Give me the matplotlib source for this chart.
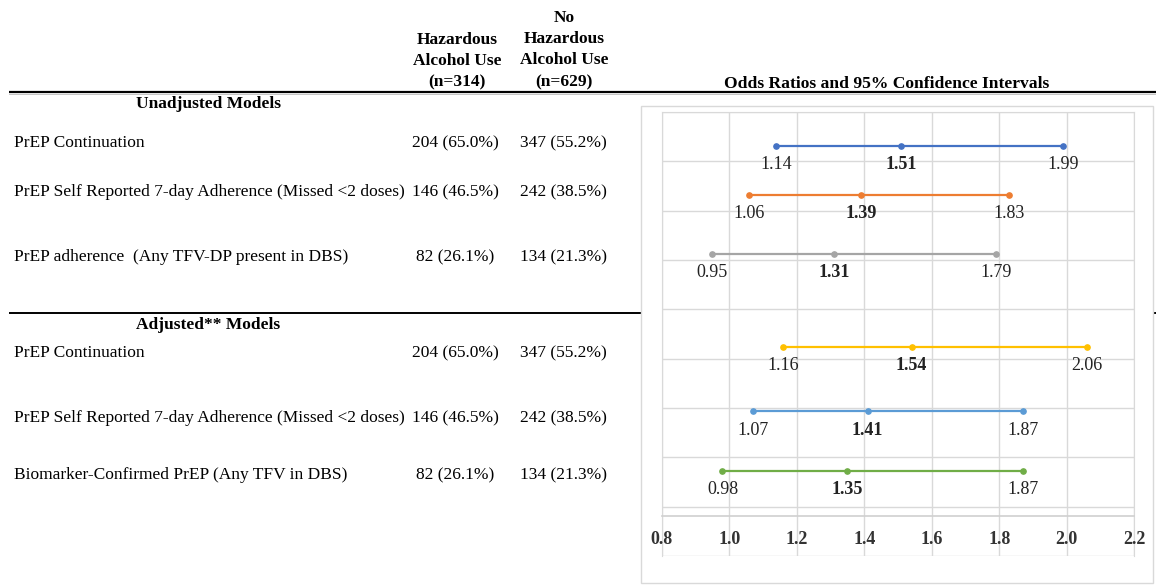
import matplotlib
matplotlib.use("Agg")
import matplotlib.pyplot as plt
from matplotlib.patches import Rectangle

plt.rcParams["font.family"] = ["Liberation Serif", "DejaVu Serif"]

# ---- data ----
outcomes = ["PrEP Continuation",
            "PrEP Self Reported 7-day Adherence (Missed <2 doses)",
            "PrEP adherence  (Any TFV-DP present in DBS)",
            "PrEP Continuation",
            "PrEP Self Reported 7-day Adherence (Missed <2 doses)",
            "Biomarker-Confirmed PrEP (Any TFV in DBS)"]
hazardous = ["204 (65.0%)", "146 (46.5%)", "82 (26.1%)",
             "204 (65.0%)", "146 (46.5%)", "82 (26.1%)"]
no_hazardous = ["347 (55.2%)", "242 (38.5%)", "134 (21.3%)",
                "347 (55.2%)", "242 (38.5%)", "134 (21.3%)"]
odds_ratio = [1.51, 1.39, 1.31, 1.54, 1.41, 1.35]
ci_low = [1.14, 1.06, 0.95, 1.16, 1.07, 0.98]
ci_high = [1.99, 1.83, 1.79, 2.06, 1.87, 1.87]
section_titles = ["Unadjusted Models", "Adjusted** Models"]
header_1 = ["Hazardous", "Alcohol Use", "(n=314)"]
header_2 = ["No", "Hazardous", "Alcohol Use", "(n=629)"]
x_ticks = [0.8, 1.0, 1.2, 1.4, 1.6, 1.8, 2.0, 2.2]

# ---- layout (pixels on the 1156x585 canvas) ----
W, H = 1156, 585
row_px = [143, 192, 257, 353, 418, 475]
section_px = [104, 325]
row_y = [8.31, 7.32, 6.13, 4.24, 2.93, 1.72]       # chart rows in axis units
colors = ["#4472C4", "#ED7D31", "#A5A5A5", "#FFC000", "#5B9BD5", "#70AD47"]
GRID = "#D9D9D9"
FS = 12.5

fig = plt.figure(figsize=(W / 100, H / 100), dpi=100)
tab = fig.add_axes([0, 0, 1, 1])
tab.set_xlim(0, W); tab.set_ylim(H, 0); tab.axis("off")

# header
for i, s in enumerate(header_1):
    tab.text(457, 39.5 + 21.5 * i, s, ha="center", va="center", fontsize=FS, fontweight="bold")
for i, s in enumerate(header_2):
    tab.text(564, 17.5 + 21.5 * i, s, ha="center", va="center", fontsize=FS, fontweight="bold")
tab.text(887, 84, "Odds Ratios and 95% Confidence Intervals", ha="center", va="center",
         fontsize=12.6, fontweight="bold")

# rules
tab.plot([9, W], [91.7, 91.7], color="black", lw=1.6, solid_capstyle="butt")
tab.plot([9, W], [93.8, 93.8], color="#BBBBBB", lw=0.6)
tab.plot([9, W], [312.5, 312.5], color="black", lw=1.4, solid_capstyle="butt")

for s, y in zip(section_titles, section_px):
    tab.text(208, y, s, ha="center", va="center", fontsize=FS, fontweight="bold")
for name, a, b, y in zip(outcomes, hazardous, no_hazardous, row_px):
    tab.text(14, y, name, ha="left", va="center", fontsize=FS)
    tab.text(455, y, a, ha="center", va="center", fontsize=FS)
    tab.text(563, y, b, ha="center", va="center", fontsize=FS)

# chart panel (white box covers the lower rule)
tab.add_patch(Rectangle((640.7, 106), 1152.7 - 640.7, 477, facecolor="white",
                        edgecolor=GRID, lw=1.0, zorder=3))

# ---- forest chart ----
left, right, top, bottom = 661.7, 1134.3, 112, 556
ax = fig.add_axes([left / W, (H - bottom) / H, (right - left) / W, (bottom - top) / H])
ax.set_zorder(5)
ax.set_xlim(0.8, 2.2)
ax.set_ylim(0, 9)
ax.set_xticks(x_ticks, labels=[])
ax.set_yticks(range(10), labels=[])
ax.tick_params(axis="both", length=0)
# bold tick labels sit inside the plot area, under the axis line
for t in x_ticks:
    ax.text(t, (bottom - 540) / (bottom - top), f"{t:.1f}", transform=ax.get_xaxis_transform(),
            ha="center", va="center", fontsize=13, fontweight="bold", color="#333333")
ax.grid(True, color=GRID, lw=1.0)
ax.set_axisbelow(True)
for side in ("top", "left", "right"):
    ax.spines[side].set_color(GRID)
ax.spines["bottom"].set_position(("data", 0.81))
ax.spines["bottom"].set_color("#D0D0D0")
ax.spines["bottom"].set_linewidth(1.2)

for lo, o, hi, y, c in zip(ci_low, odds_ratio, ci_high, row_y, colors):
    ax.plot([lo, o, hi], [y, y, y], color=c, lw=1.6, marker="o", markersize=3.8, zorder=4)
    for v, bold in ((lo, False), (o, True), (hi, False)):
        ax.annotate(f"{v:.2f}", (v, y), xytext=(0, -13.5), textcoords="offset points",
                    ha="center", va="center", fontsize=13,
                    fontweight="bold" if bold else "normal", color="#222222")

fig.savefig("out.png", dpi=100, facecolor="white")
